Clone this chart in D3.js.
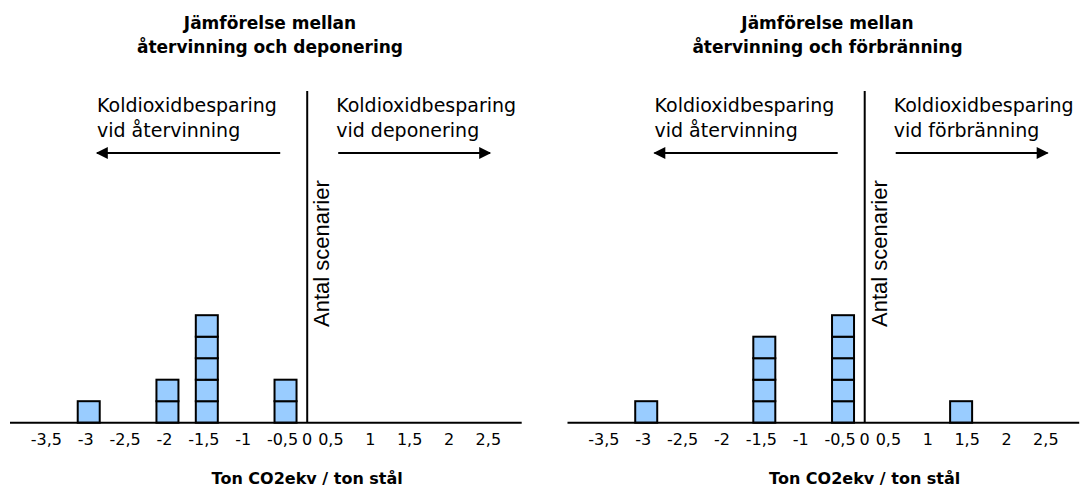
<!DOCTYPE html>
<html>
<head>
<meta charset="utf-8">
<script src="https://cdn.jsdelivr.net/npm/d3@7"></script>
<style>
  html, body { margin: 0; padding: 0; background: #fff; }
  svg { display: block; }
  text { fill: #000; }
</style>
</head>
<body>
<svg id="chart" width="1081" height="490"></svg>
<script>
// ---- data ----
const categories = ["-3,5", "-3", "-2,5", "-2", "-1,5", "-1", "-0,5", "0,5", "1", "1,5", "2", "2,5"];
const countsDeponering = [0, 1, 0, 2, 5, 0, 2, 0, 0, 0, 0, 0];
const countsForbranning = [0, 1, 0, 0, 4, 0, 5, 0, 0, 1, 0, 0];
const titlesDeponering = ["Jämförelse mellan", "återvinning och deponering"];
const titlesForbranning = ["Jämförelse mellan", "återvinning och förbränning"];
const leftLabel = ["Koldioxidbesparing", "vid återvinning"];
const rightLabelDeponering = ["Koldioxidbesparing", "vid deponering"];
const rightLabelForbranning = ["Koldioxidbesparing", "vid förbränning"];
const zeroLabel = "0";
const yAxisTitle = "Antal scenarier";
const xAxisTitle = "Ton CO2ekv / ton stål";

const panels = [
  { counts: countsDeponering, title: titlesDeponering, rightLabel: rightLabelDeponering, dx: 0 },
  { counts: countsForbranning, title: titlesForbranning, rightLabel: rightLabelForbranning, dx: 557.5 }
];

const svg = d3.select("#chart");
const font = "'DejaVu Sans', Verdana, sans-serif";

svg.append("defs").append("marker")
  .attr("id", "arrow").attr("viewBox", "0 0 10 10")
  .attr("refX", 9).attr("refY", 5)
  .attr("markerWidth", 7).attr("markerHeight", 6)
  .attr("markerUnits", "strokeWidth")
  .attr("orient", "auto-start-reverse")
  .append("path").attr("d", "M0,0 L10,5 L0,10 z").attr("fill", "#000");

const baseY = 422.7;
const unitH = 21.5;
const barW = 22;

panels.forEach(p => {
  const g = svg.append("g").attr("transform", `translate(${p.dx},0)`);
  const x = d3.scalePoint().domain(categories).range([10, 521.7]).padding(1);
  const y = d3.scaleLinear().domain([0, 1]).range([baseY, baseY - unitH]);
  const divX = (x("-0,5") + x("0,5")) / 2 + 2;

  // titles
  g.append("text").attr("y", 29).attr("text-anchor", "middle")
    .attr("font-family", font).attr("font-weight", "bold").attr("font-size", 17)
    .selectAll("tspan").data(p.title).join("tspan")
    .attr("x", 270).attr("dy", (d, i) => i === 0 ? 0 : 24).text(d => d);

  // direction labels
  const lab = (lines, xpos) => g.append("text").attr("font-family", font).attr("font-size", 19)
    .attr("y", 112)
    .selectAll("tspan").data(lines).join("tspan")
    .attr("x", xpos).attr("dy", (d, i) => i === 0 ? 0 : 25).text(d => d);
  lab(leftLabel, 97);
  lab(p.rightLabel, divX + 29);

  // arrows
  g.append("line").attr("x1", divX - 27).attr("x2", 97).attr("y1", 153).attr("y2", 153)
    .attr("stroke", "#000").attr("stroke-width", 2).attr("marker-end", "url(#arrow)");
  g.append("line").attr("x1", divX + 31).attr("x2", 490).attr("y1", 153).attr("y2", 153)
    .attr("stroke", "#000").attr("stroke-width", 2).attr("marker-end", "url(#arrow)");

  // bars as stacked squares
  const squares = [];
  p.counts.forEach((c, i) => { for (let k = 0; k < c; k++) squares.push({ cat: categories[i], k }); });
  g.selectAll("rect.sq").data(squares).join("rect").attr("class", "sq")
    .attr("x", d => x(d.cat) - barW / 2)
    .attr("y", d => y(d.k + 1))
    .attr("width", barW)
    .attr("height", y(0) - y(1))
    .attr("fill", "#99CCFF").attr("stroke", "#000").attr("stroke-width", 2);

  // x axis baseline
  g.append("line").attr("x1", x.range()[0]).attr("x2", x.range()[1])
    .attr("y1", baseY).attr("y2", baseY).attr("stroke", "#000").attr("stroke-width", 2);

  // divider / value axis
  g.append("line").attr("x1", divX).attr("x2", divX).attr("y1", 91).attr("y2", baseY)
    .attr("stroke", "#000").attr("stroke-width", 2);

  // y axis title
  g.append("text").attr("transform", `translate(${divX + 22},${327}) rotate(-90)`)
    .attr("font-family", "'Liberation Sans', Arial, sans-serif").attr("font-size", 22)
    .text(yAxisTitle);

  // tick labels
  g.selectAll("text.tick").data(categories).join("text").attr("class", "tick")
    .attr("x", d => x(d)).attr("dx", d => d.startsWith("-") ? -3 : 6)
    .attr("y", 445).attr("text-anchor", "middle")
    .attr("font-family", font).attr("font-size", 16).text(d => d);
  g.append("text").attr("x", divX).attr("y", 445).attr("text-anchor", "middle")
    .attr("font-family", font).attr("font-size", 16).text(zeroLabel);

  // x axis title
  g.append("text").attr("x", divX).attr("y", 484).attr("text-anchor", "middle")
    .attr("font-family", font).attr("font-weight", "bold").attr("font-size", 16)
    .text(xAxisTitle);
});
</script>
</body>
</html>
